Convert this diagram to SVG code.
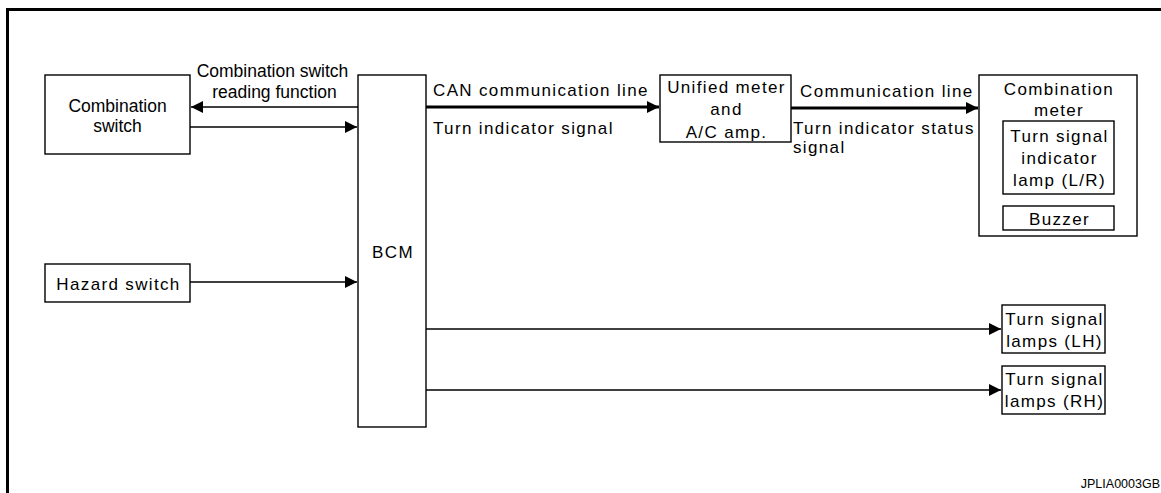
<svg xmlns="http://www.w3.org/2000/svg" width="1161" height="493" viewBox="0 0 1161 493">
<style>
.box{fill:#fff;stroke:#000;stroke-width:1.4}
.t{font-family:"Liberation Sans",Arial,sans-serif;font-size:17px;letter-spacing:1.35px;fill:#000}
.h{font-family:"Liberation Sans",Arial,sans-serif;font-size:17.5px;fill:#000}
.m{text-anchor:middle}
.ln{stroke:#000;stroke-width:1.4;fill:none}
.thick{stroke:#000;stroke-width:3.2;fill:none}
</style>
<defs>
<marker id="ah" markerUnits="userSpaceOnUse" markerWidth="13" markerHeight="12" refX="12" refY="6" orient="auto">
<path d="M0,0 L12,6 L0,12 Z" fill="#000"/>
</marker>
</defs>
<rect x="0" y="0" width="1161" height="493" fill="#fff"/>
<g id="frame">
<path d="M7.5,493 V9.5 H1161" fill="none" stroke="#000" stroke-width="3"/>
</g>
<g id="connectors">
<line class="ln" x1="358" y1="107" x2="191" y2="107" marker-end="url(#ah)"/>
<line class="ln" x1="190" y1="127" x2="357" y2="127" marker-end="url(#ah)"/>
<line class="ln" x1="190" y1="282" x2="357" y2="282" marker-end="url(#ah)"/>
<line class="thick" x1="426" y1="107" x2="659" y2="107" marker-end="url(#ah)"/>
<line class="thick" x1="791" y1="108" x2="978" y2="108" marker-end="url(#ah)"/>
<line class="ln" x1="426" y1="329" x2="1001" y2="329" marker-end="url(#ah)"/>
<line class="ln" x1="426" y1="390" x2="1001" y2="390" marker-end="url(#ah)"/>
<text class="h m" x="272.5" y="77">Combination switch</text>
<text class="h m" x="274.5" y="98">reading function</text>
<text class="t" x="433" y="96">CAN communication line</text>
<text class="t" x="433" y="134">Turn indicator signal</text>
<text class="t" x="800" y="97">Communication line</text>
<text class="t" x="793" y="134">Turn indicator status</text>
<text class="t" x="793" y="153">signal</text>
</g>
<g id="combination-switch">
<rect class="box" x="45" y="75" width="145" height="79"/>
<text class="h m" x="117.5" y="112">Combination</text>
<text class="h m" x="117.5" y="132">switch</text>
</g>
<g id="hazard-switch">
<rect class="box" x="45" y="264" width="145" height="38"/>
<text class="t m" x="118.5" y="290">Hazard switch</text>
</g>
<g id="bcm">
<rect class="box" x="358" y="75" width="68" height="352"/>
<text class="t m" x="393" y="258">BCM</text>
</g>
<g id="unified-meter">
<rect class="box" x="660" y="75" width="131" height="67"/>
<text class="t m" x="726.5" y="93">Unified meter</text>
<text class="t m" x="726.5" y="115">and</text>
<text class="t m" x="726.5" y="138">A/C amp.</text>
</g>
<g id="combination-meter">
<rect class="box" x="979" y="75" width="158" height="161"/>
<text class="t m" x="1059" y="95">Combination</text>
<text class="t m" x="1059" y="116">meter</text>
<rect class="box" x="1003" y="121" width="111" height="73"/>
<text class="t m" x="1059.5" y="142">Turn signal</text>
<text class="t m" x="1059.5" y="164">indicator</text>
<text class="t m" x="1059.5" y="186">lamp (L/R)</text>
<rect class="box" x="1003" y="206" width="111" height="24"/>
<text class="t m" x="1059.5" y="225">Buzzer</text>
</g>
<g id="turn-lamps-lh">
<rect class="box" x="1002" y="305" width="103" height="48"/>
<text class="t m" x="1054.5" y="325">Turn signal</text>
<text class="t m" x="1054.5" y="347">lamps (LH)</text>
</g>
<g id="turn-lamps-rh">
<rect class="box" x="1002" y="366" width="103" height="48"/>
<text class="t m" x="1054.5" y="385">Turn signal</text>
<text class="t m" x="1054.5" y="407">lamps (RH)</text>
</g>
<text x="1160" y="488" font-family="Liberation Sans,Arial,sans-serif" font-size="12.5" text-anchor="end">JPLIA0003GB</text>
</svg>
